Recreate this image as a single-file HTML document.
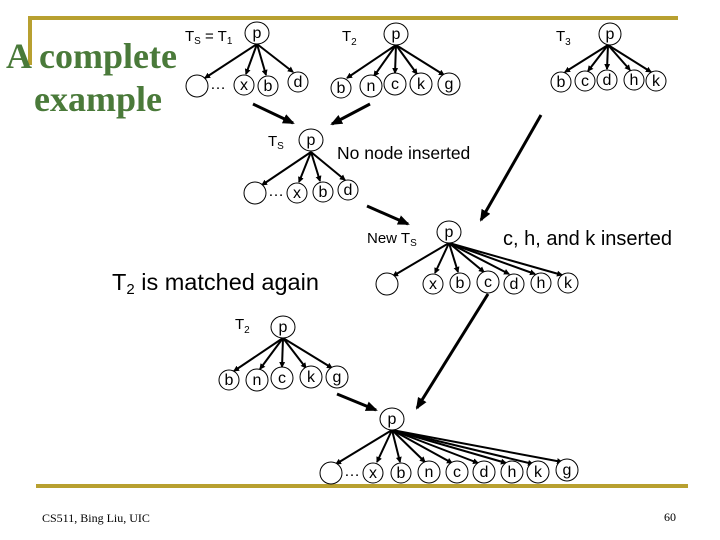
<!DOCTYPE html>
<html><head><meta charset="utf-8"><style>
body{margin:0;background:#fff}
svg{display:block}
text{font-family:"Liberation Sans",sans-serif}
.n{font-size:16px;text-anchor:middle}
</style></head><body>
<svg width="720" height="540" viewBox="0 0 720 540" xmlns="http://www.w3.org/2000/svg">
<defs>
<marker id="a" markerWidth="6" markerHeight="6" refX="5" refY="3" orient="auto" markerUnits="userSpaceOnUse"><path d="M0,0 L6,3 L0,6z" fill="#000"/></marker>
<marker id="A" markerWidth="12" markerHeight="10" refX="10" refY="5" orient="auto" markerUnits="userSpaceOnUse"><path d="M0,0 L12,5 L0,10z" fill="#000"/></marker>
</defs>
<g stroke="#b8a030" stroke-width="4" fill="none">
<path d="M30,65 V18 H678"/>
<path d="M36,486 H688"/>
</g>
<text x="6" y="68" font-weight="bold" font-size="36" fill="#4a7a3a" style="font-family:'Liberation Serif',serif">A complete</text>
<text x="34" y="111" font-weight="bold" font-size="36" fill="#4a7a3a" style="font-family:'Liberation Serif',serif">example</text>

<g stroke="#000" stroke-width="2" fill="none">
<line x1="257" y1="44" x2="205" y2="78" marker-end="url(#a)"/>
<line x1="257" y1="44" x2="246" y2="74" marker-end="url(#a)"/>
<line x1="257" y1="44" x2="266" y2="75" marker-end="url(#a)"/>
<line x1="257" y1="44" x2="293" y2="72" marker-end="url(#a)"/>
<line x1="396" y1="45" x2="347" y2="78" marker-end="url(#a)"/>
<line x1="396" y1="45" x2="374" y2="76" marker-end="url(#a)"/>
<line x1="396" y1="45" x2="395" y2="73" marker-end="url(#a)"/>
<line x1="396" y1="45" x2="417" y2="74" marker-end="url(#a)"/>
<line x1="396" y1="45" x2="444" y2="75" marker-end="url(#a)"/>
<line x1="608" y1="45" x2="565" y2="72" marker-end="url(#a)"/>
<line x1="608" y1="45" x2="588" y2="71" marker-end="url(#a)"/>
<line x1="608" y1="45" x2="607" y2="69" marker-end="url(#a)"/>
<line x1="608" y1="45" x2="630" y2="70" marker-end="url(#a)"/>
<line x1="608" y1="45" x2="651" y2="72" marker-end="url(#a)"/>
<line x1="311" y1="152" x2="262" y2="185" marker-end="url(#a)"/>
<line x1="311" y1="152" x2="299" y2="182" marker-end="url(#a)"/>
<line x1="311" y1="152" x2="320" y2="181" marker-end="url(#a)"/>
<line x1="311" y1="152" x2="345" y2="180" marker-end="url(#a)"/>
<line x1="449" y1="243" x2="393" y2="276" marker-end="url(#a)"/>
<line x1="449" y1="243" x2="435" y2="273" marker-end="url(#a)"/>
<line x1="449" y1="243" x2="458" y2="272" marker-end="url(#a)"/>
<line x1="449" y1="243" x2="484" y2="272" marker-end="url(#a)"/>
<line x1="449" y1="243" x2="509" y2="274" marker-end="url(#a)"/>
<line x1="449" y1="243" x2="535" y2="274" marker-end="url(#a)"/>
<line x1="449" y1="243" x2="562" y2="275" marker-end="url(#a)"/>
<line x1="283" y1="338" x2="234" y2="371" marker-end="url(#a)"/>
<line x1="283" y1="338" x2="260" y2="369" marker-end="url(#a)"/>
<line x1="283" y1="338" x2="282" y2="367" marker-end="url(#a)"/>
<line x1="283" y1="338" x2="306" y2="368" marker-end="url(#a)"/>
<line x1="283" y1="338" x2="332" y2="368" marker-end="url(#a)"/>
<line x1="392" y1="430" x2="336" y2="464" marker-end="url(#a)"/>
<line x1="392" y1="430" x2="377" y2="462" marker-end="url(#a)"/>
<line x1="392" y1="430" x2="400" y2="462" marker-end="url(#a)"/>
<line x1="392" y1="430" x2="425" y2="462" marker-end="url(#a)"/>
<line x1="392" y1="430" x2="452" y2="463" marker-end="url(#a)"/>
<line x1="392" y1="430" x2="478" y2="463" marker-end="url(#a)"/>
<line x1="392" y1="430" x2="506" y2="463" marker-end="url(#a)"/>
<line x1="392" y1="430" x2="533" y2="464" marker-end="url(#a)"/>
<line x1="392" y1="430" x2="562" y2="462" marker-end="url(#a)"/>
</g>
<g stroke="#000" stroke-width="3" fill="none">
<line x1="253" y1="104" x2="293" y2="123" marker-end="url(#A)"/>
<line x1="370" y1="104" x2="332" y2="124" marker-end="url(#A)"/>
<line x1="367" y1="206" x2="408" y2="224" marker-end="url(#A)"/>
<line x1="541" y1="115" x2="481" y2="220" marker-end="url(#A)"/>
<line x1="488" y1="294" x2="417" y2="408" marker-end="url(#A)"/>
<line x1="337" y1="394" x2="376" y2="410" marker-end="url(#A)"/>
</g>

<g fill="#fff" stroke="#000" stroke-width="1">
<ellipse cx="257" cy="33" rx="12" ry="11"/>
<circle cx="197" cy="86" r="11"/><circle cx="244" cy="85" r="10"/><circle cx="268" cy="86" r="10"/><circle cx="298" cy="82" r="10"/>
<ellipse cx="396" cy="34" rx="12" ry="11"/>
<circle cx="341" cy="88" r="10"/><circle cx="371" cy="86" r="11"/><circle cx="395" cy="84" r="11"/><circle cx="421" cy="84" r="11"/><circle cx="449" cy="84" r="11"/>
<ellipse cx="610" cy="34" rx="11" ry="11"/>
<circle cx="561" cy="82" r="10"/><circle cx="585" cy="81" r="10"/><circle cx="607" cy="80" r="10"/><circle cx="634" cy="80" r="10"/><circle cx="656" cy="81" r="10"/>
<ellipse cx="311" cy="140" rx="12" ry="11"/>
<circle cx="255" cy="193" r="11"/><circle cx="297" cy="193" r="10"/><circle cx="323" cy="192" r="10"/><circle cx="348" cy="190" r="10"/>
<ellipse cx="449" cy="232" rx="12" ry="11"/>
<circle cx="387" cy="284" r="11"/><circle cx="433" cy="284" r="10"/><circle cx="460" cy="283" r="10"/><circle cx="488" cy="282" r="11"/><circle cx="514" cy="284" r="10"/><circle cx="541" cy="283" r="10"/><circle cx="568" cy="283" r="10"/>
<ellipse cx="283" cy="327" rx="12" ry="11"/>
<circle cx="229" cy="380" r="10"/><circle cx="257" cy="380" r="11"/><circle cx="282" cy="378" r="11"/><circle cx="311" cy="377" r="11"/><circle cx="337" cy="377" r="11"/>
<ellipse cx="392" cy="419" rx="12" ry="11"/>
<circle cx="331" cy="473" r="11"/><circle cx="373" cy="473" r="10"/><circle cx="401" cy="473" r="10"/><circle cx="429" cy="472" r="11"/><circle cx="457" cy="472" r="11"/><circle cx="484" cy="472" r="11"/><circle cx="512" cy="472" r="11"/><circle cx="538" cy="472" r="11"/><circle cx="567" cy="470" r="11"/>
</g>

<g>
<text x="257" y="38" class="n">p</text>
<text x="218" y="89" class="n">…</text><text x="244" y="90" class="n">x</text><text x="268" y="91" class="n">b</text><text x="298" y="87" class="n">d</text>
<text x="396" y="39" class="n">p</text>
<text x="341" y="93" class="n">b</text><text x="371" y="91" class="n">n</text><text x="395" y="89" class="n">c</text><text x="421" y="89" class="n">k</text><text x="449" y="89" class="n">g</text>
<text x="610" y="39" class="n">p</text>
<text x="561" y="87" class="n">b</text><text x="585" y="86" class="n">c</text><text x="607" y="85" class="n">d</text><text x="634" y="85" class="n">h</text><text x="656" y="86" class="n">k</text>
<text x="311" y="145" class="n">p</text>
<text x="276" y="196" class="n">…</text><text x="297" y="198" class="n">x</text><text x="323" y="197" class="n">b</text><text x="348" y="195" class="n">d</text>
<text x="449" y="237" class="n">p</text>
<text x="433" y="289" class="n">x</text><text x="460" y="288" class="n">b</text><text x="488" y="287" class="n">c</text><text x="514" y="289" class="n">d</text><text x="541" y="288" class="n">h</text><text x="568" y="288" class="n">k</text>
<text x="283" y="332" class="n">p</text>
<text x="229" y="385" class="n">b</text><text x="257" y="385" class="n">n</text><text x="282" y="383" class="n">c</text><text x="311" y="382" class="n">k</text><text x="337" y="382" class="n">g</text>
<text x="392" y="424" class="n">p</text>
<text x="352" y="476" class="n">…</text><text x="373" y="478" class="n">x</text><text x="401" y="478" class="n">b</text><text x="429" y="477" class="n">n</text><text x="457" y="477" class="n">c</text><text x="484" y="477" class="n">d</text><text x="512" y="477" class="n">h</text><text x="538" y="477" class="n">k</text><text x="567" y="475" class="n">g</text>
</g>

<g font-size="15">
<text x="185" y="41">T<tspan font-size="10" dy="3">S</tspan><tspan dy="-3"> = T</tspan><tspan font-size="10" dy="3">1</tspan></text>
<text x="342" y="41">T<tspan font-size="10" dy="4">2</tspan></text>
<text x="556" y="41">T<tspan font-size="10" dy="4">3</tspan></text>
<text x="268" y="146">T<tspan font-size="10" dy="3">S</tspan></text>
<text x="367" y="243">New T<tspan font-size="10" dy="3">S</tspan></text>
<text x="235" y="329">T<tspan font-size="10" dy="4">2</tspan></text>
</g>
<text x="337" y="159" font-size="17.5">No node inserted</text>
<text x="503" y="245" font-size="20">c, h, and k inserted</text>
<text x="112" y="290" font-size="23.5">T<tspan font-size="15" dy="4">2</tspan><tspan dy="-4"> is matched again</tspan></text>
<text x="42" y="522" font-size="12" style="font-family:'Liberation Serif',serif">CS511, Bing Liu, UIC</text>
<text x="664" y="521" font-size="12" style="font-family:'Liberation Serif',serif">60</text>
</svg>
</body></html>
